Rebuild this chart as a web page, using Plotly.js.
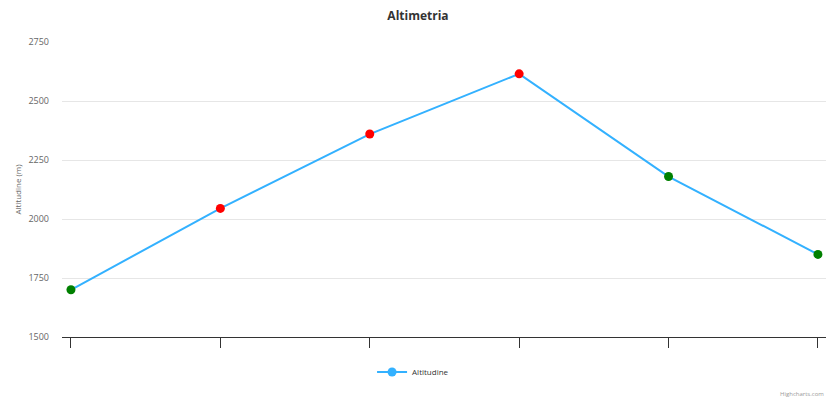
<!DOCTYPE html>
<html>
<head>
<meta charset="utf-8">
<script src="https://cdn.plot.ly/plotly-3.0.1.min.js"></script>
<style>html,body{margin:0;padding:0;background:#fff;}#chart{width:836px;height:400px;}</style>
</head>
<body>
<div id="chart"></div>
<script>
const categories = [0, 1, 2, 3, 4, 5];
const altitudes = [1700, 2045, 2360, 2615, 2180, 1850];
const pointColors = ['#008000', '#ff0000', '#ff0000', '#ff0000', '#008000', '#008000'];
const seriesName = 'Altitudine';
const yTicks = [1500, 1750, 2000, 2250, 2500, 2750];

const FONT = '"Open Sans", "Noto Sans", sans-serif';
const lineColor = '#33b1ff';

const traces = [
  {
    x: categories, y: altitudes, type: 'scatter', mode: 'lines+markers',
    line: {color: lineColor, width: 2},
    marker: {color: pointColors, size: 9},
    showlegend: false, hoverinfo: 'y', cliponaxis: false
  },
  {
    x: [null], y: [null], type: 'scatter', mode: 'lines+markers', name: seriesName,
    line: {color: lineColor, width: 2},
    marker: {color: lineColor, size: 9},
    showlegend: true
  }
];

const layout = {
  width: 836, height: 400, autosize: false,
  margin: {l: 62, r: 10, t: 42, b: 63, autoexpand: false},
  paper_bgcolor: '#fff', plot_bgcolor: '#fff',
  font: {family: FONT, color: '#333'},
  title: {text: '<b>Altimetria</b>', x: 0.5, xref: 'container', y: 0.96, yref: 'container', yanchor: 'middle',
          font: {family: FONT, size: 12, color: '#333'}},
  xaxis: {
    range: [-0.06, 5.054], tickvals: categories, showticklabels: false,
    ticks: 'outside', ticklen: 10, tickcolor: '#333', tickwidth: 1,
    showline: true, linecolor: '#333', linewidth: 1,
    showgrid: false, zeroline: false, fixedrange: true
  },
  yaxis: {
    range: [1500, 2750], tickvals: yTicks, ticktext: yTicks.map(String),
    tickfont: {family: FONT, size: 9, color: '#666'},
    ticks: '', ticklabelstandoff: 12,
    gridcolor: '#e6e6e6', gridwidth: 1, showline: false, zeroline: false,
    title: {text: 'Altitudine (m)', font: {family: FONT, size: 8, color: '#666'}, standoff: 5},
    automargin: false, fixedrange: true
  },
  legend: {
    orientation: 'h', x: 0.4595, xanchor: 'center',
    y: -0.1186, yanchor: 'middle',
    font: {family: FONT, size: 8, color: '#333'}, itemwidth: 30
  },
  annotations: [{
    text: 'Highcharts.com', xref: 'paper', yref: 'paper', x: 1.0, y: -0.193,
    xanchor: 'right', yanchor: 'middle', showarrow: false,
    font: {family: FONT, size: 6, color: '#999'}
  }]
};

Plotly.newPlot('chart', traces, layout, {displayModeBar: false});
</script>
</body>
</html>
